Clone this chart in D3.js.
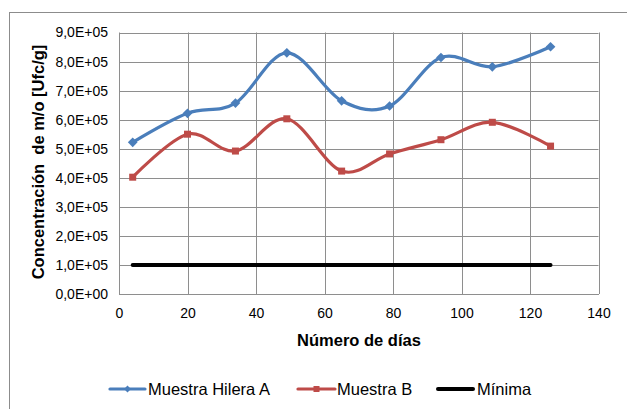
<!DOCTYPE html>
<html>
<head>
<meta charset="utf-8">
<script src="https://cdn.jsdelivr.net/npm/d3@7"></script>
<style>
  html, body { margin: 0; padding: 0; background: #fff; }
  svg { display: block; font-family: "Liberation Sans", Arial, sans-serif; }
</style>
</head>
<body>
<svg id="chart" width="627" height="409"></svg>
<script>
const days = [4, 20, 34, 49, 65, 79, 94, 109, 126];
const muestraA = [5.22e5, 6.22e5, 6.57e5, 8.30e5, 6.65e5, 6.47e5, 8.14e5, 7.82e5, 8.51e5];
const muestraB = [4.02e5, 5.50e5, 4.92e5, 6.03e5, 4.23e5, 4.82e5, 5.31e5, 5.91e5, 5.09e5];
const minima = [1.0e5, 1.0e5, 1.0e5, 1.0e5, 1.0e5, 1.0e5, 1.0e5, 1.0e5, 1.0e5];
const seriesNames = ["Muestra Hilera A", "Muestra B", "Mínima"];
const xTicks = [0, 20, 40, 60, 80, 100, 120, 140];
const yTicks = [0, 1e5, 2e5, 3e5, 4e5, 5e5, 6e5, 7e5, 8e5, 9e5];
const xTitle = "Número de días";
const yTitle = "Concentración  de m/o [Ufc/g]";

const svg = d3.select("#chart");
const colors = ["#4a7ebb", "#be4b48", "#000000"];

// outer chart border
svg.append("rect").attr("x", 9.5).attr("y", 12.5).attr("width", 640).attr("height", 420)
  .attr("fill", "none").attr("stroke", "#8c8c8c").attr("stroke-width", 1);

const x = d3.scaleLinear().domain([0, 140]).range([119, 598.5]);
const y = d3.scaleLinear().domain([0, 9e5]).range([294, 32.5]);

const fmt = v => {
  const e = v === 0 ? 0 : Math.floor(Math.log10(v));
  const m = v / Math.pow(10, e);
  return m.toFixed(1).replace(".", ",") + "E+" + String(e).padStart(2, "0");
};

// gridlines
const grid = svg.append("g");
grid.selectAll("line.h").data(yTicks).join("line")
  .attr("x1", x(0)).attr("x2", x(140))
  .attr("y1", d => Math.round(y(d)) + 0.5).attr("y2", d => Math.round(y(d)) + 0.5)
  .attr("stroke", "#8e8e8e").attr("stroke-width", 1);
grid.selectAll("line.v").data(xTicks).join("line")
  .attr("y1", y(0)).attr("y2", y(9e5))
  .attr("x1", d => Math.round(x(d)) + 0.5).attr("x2", d => Math.round(x(d)) + 0.5)
  .attr("stroke", "#8e8e8e").attr("stroke-width", 1);

// axes
const yAxis = d3.axisLeft(y).tickValues(yTicks).tickFormat(fmt).tickSize(0).tickPadding(11);
const gy = svg.append("g").attr("transform", `translate(${x(0)},0)`).call(yAxis);
gy.select(".domain").attr("stroke", "#8e8e8e");
gy.selectAll("text").attr("font-size", 14).attr("fill", "#000")
  .attr("font-family", "Liberation Sans, Arial, sans-serif");

const xAxis = d3.axisBottom(x).tickValues(xTicks).tickSize(0).tickPadding(14);
const gx = svg.append("g").attr("transform", `translate(0,${y(0)})`).call(xAxis);
gx.select(".domain").attr("stroke", "#8e8e8e");
gx.selectAll("text").attr("font-size", 14).attr("fill", "#000")
  .attr("font-family", "Liberation Sans, Arial, sans-serif");

// titles
svg.append("text").attr("x", 359).attr("y", 345.5).attr("text-anchor", "middle")
  .attr("font-size", 16.5).attr("font-weight", "bold").text(xTitle);
svg.append("text").attr("transform", "translate(44,162) rotate(-90)").attr("text-anchor", "middle")
  .attr("font-size", 16.5).attr("font-weight", "bold").style("white-space", "pre").text(yTitle);

// series
const curve = d3.curveCardinal.tension(0);
const mk = vals => days.map((d, i) => [d, vals[i]]);
const lineGen = d3.line().x(d => x(d[0])).y(d => y(d[1])).curve(curve);

const dataA = mk(muestraA), dataB = mk(muestraB), dataM = mk(minima);

svg.append("path").datum(dataM).attr("d", d3.line().x(d => x(d[0])).y(d => y(d[1])))
  .attr("fill", "none").attr("stroke", colors[2]).attr("stroke-width", 4).attr("stroke-linecap", "round");

svg.append("path").datum(dataB).attr("d", lineGen)
  .attr("fill", "none").attr("stroke", colors[1]).attr("stroke-width", 3.2);
svg.append("g").selectAll("rect").data(dataB).join("rect")
  .attr("x", d => x(d[0]) - 3.5).attr("y", d => y(d[1]) - 3.5)
  .attr("width", 7).attr("height", 7).attr("fill", colors[1]);

svg.append("path").datum(dataA).attr("d", lineGen)
  .attr("fill", "none").attr("stroke", colors[0]).attr("stroke-width", 3.2);
const diamond = d3.symbol().type(d3.symbolDiamond2).size(60);
svg.append("g").selectAll("path").data(dataA).join("path")
  .attr("transform", d => `translate(${x(d[0])},${y(d[1])})`)
  .attr("d", diamond).attr("fill", colors[0]);

// legend
const legend = [
  { name: seriesNames[0], color: colors[0], x1: 110, x2: 145, tx: 148, marker: "diamond" },
  { name: seriesNames[1], color: colors[1], x1: 298, x2: 335, tx: 337, marker: "square" },
  { name: seriesNames[2], color: colors[2], x1: 438, x2: 473, tx: 477, marker: null }
];
const ly = 389;
const lg = svg.append("g");
legend.forEach(l => {
  lg.append("line").attr("x1", l.x1).attr("x2", l.x2).attr("y1", ly).attr("y2", ly)
    .attr("stroke", l.color).attr("stroke-width", l.marker ? 3.2 : 4).attr("stroke-linecap", "round");
  const cx = (l.x1 + l.x2) / 2;
  if (l.marker === "diamond") {
    lg.append("path").attr("transform", `translate(${cx},${ly})`)
      .attr("d", d3.symbol().type(d3.symbolDiamond2).size(30)).attr("fill", l.color);
  } else if (l.marker === "square") {
    lg.append("rect").attr("x", cx - 3).attr("y", ly - 3).attr("width", 6).attr("height", 6).attr("fill", l.color);
  }
  lg.append("text").attr("x", l.tx).attr("y", ly + 6).attr("font-size", 16.5).attr("fill", "#000")
    .style("white-space", "pre").text(l.name);
});
</script>
</body>
</html>
